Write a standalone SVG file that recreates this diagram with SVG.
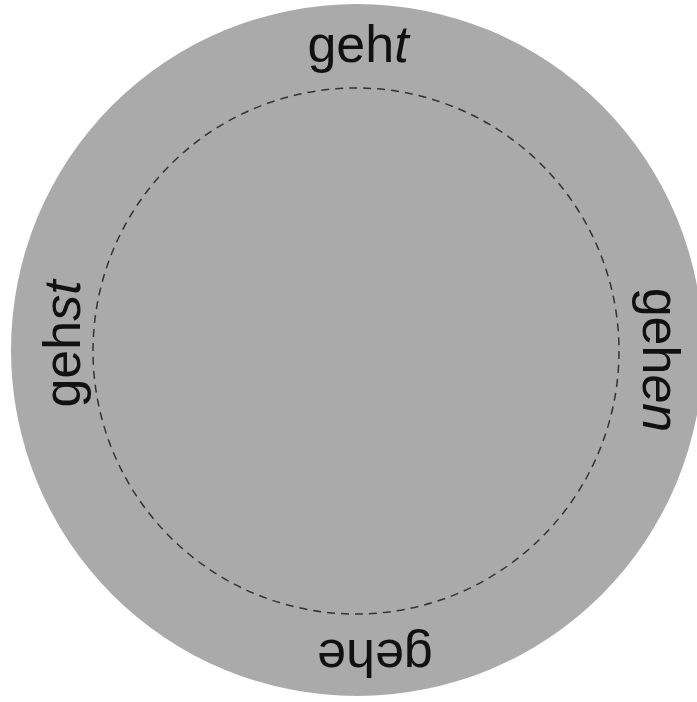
<svg xmlns="http://www.w3.org/2000/svg" width="697" height="702" viewBox="0 0 697 702">
<style>
.lbl{font-family:"Liberation Sans",Arial,sans-serif;font-size:52px;fill:#111;}
.it{font-style:italic;}
</style>
<rect width="697" height="702" fill="#ffffff"/>
<g id="disc">
<circle cx="357" cy="350" r="346" fill="#aaaaaa"/>
</g>
<g id="connectors">
<circle cx="356" cy="351" r="263" fill="none" stroke="#333333" stroke-width="1.5" stroke-dasharray="8 6"/>
</g>
<g id="geht">
<text class="lbl" x="358" y="62" text-anchor="middle">geh<tspan class="it">t</tspan></text>
</g>
<g id="gehen">
<text class="lbl" transform="translate(643 360) rotate(90)" text-anchor="middle">geh<tspan class="it">en</tspan></text>
</g>
<g id="gehe">
<text class="lbl" transform="translate(375 640) rotate(180)" text-anchor="middle">gehe</text>
</g>
<g id="gehst">
<text class="lbl" transform="translate(80 344) rotate(-90)" text-anchor="middle">geh<tspan class="it">st</tspan></text>
</g>
</svg>
